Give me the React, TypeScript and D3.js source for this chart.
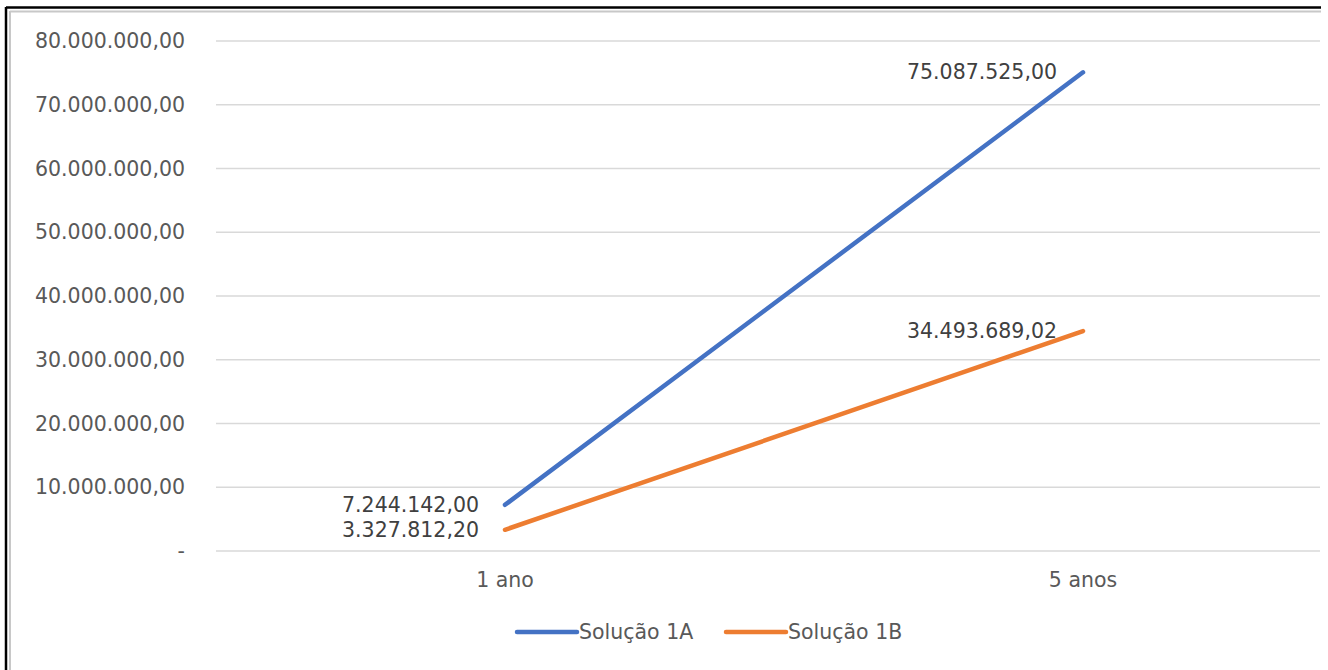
import React from "react";
import * as d3 from "d3";

const categories = ["1 ano", "5 anos"];
const seriesNames = ["Solução 1A", "Solução 1B"];
const solucao1A = [7244142.0, 75087525.0];
const solucao1B = [3327812.2, 34493689.02];
const yTicks = [0, 10000000, 20000000, 30000000, 40000000, 50000000, 60000000, 70000000, 80000000];
const colors = ["#4472C4", "#ED7D31"];

const W = 1328;
const H = 670;
const FONT = "'DejaVu Sans', 'Noto Sans', sans-serif";

const locale = d3.formatLocale({ decimal: ",", thousands: ".", grouping: [3], currency: ["R$", ""] });
const fmt = locale.format(",.2f");
const tickFmt = (v: number) => (v === 0 ? "-" : fmt(v));

export default function App() {
  const y = d3.scaleLinear().domain([0, 80000000]).range([551, 41]);
  const x = d3.scalePoint<string>().domain(categories).range([216, 1372]).padding(0.5);
  const line = d3
    .line<number>()
    .x((_, i) => x(categories[i]) as number)
    .y((d) => y(d));
  const series = [solucao1A, solucao1B];

  return (
    <div style={{ position: "absolute", left: 0, top: 0 }}>
      <svg width={W} height={H} style={{ display: "block", background: "#fff" }}>
        {/* frame */}
        <line x1={6} y1={7.5} x2={1321} y2={7.5} stroke="#000" strokeWidth={2.5} />
        <line x1={6} y1={7} x2={6} y2={H} stroke="#000" strokeWidth={2.5} />
        <line x1={10} y1={11.5} x2={1321} y2={11.5} stroke="#c8c8c8" strokeWidth={2} />
        <line x1={10} y1={11} x2={10} y2={H} stroke="#c8c8c8" strokeWidth={2} />

        {/* gridlines */}
        {yTicks.map((t) => (
          <line key={t} x1={216} x2={1320} y1={y(t)} y2={y(t)} stroke="#d9d9d9" strokeWidth={1.5} />
        ))}
        {yTicks.map((t) => (
          <text
            key={"l" + t}
            x={185}
            y={y(t)}
            dy="0.35em"
            textAnchor="end"
            fontFamily={FONT}
            fontSize={20.5}
            fill="#595959"
          >
            {tickFmt(t)}
          </text>
        ))}

        {/* category labels */}
        {categories.map((c) => (
          <text
            key={c}
            x={x(c) as number}
            y={580}
            dy="0.35em"
            textAnchor="middle"
            fontFamily={FONT}
            fontSize={20.5}
            fill="#595959"
          >
            {c}
          </text>
        ))}

        {/* lines */}
        {series.map((s, i) => (
          <path
            key={i}
            d={line(s) as string}
            fill="none"
            stroke={colors[i]}
            strokeWidth={4.5}
            strokeLinecap="round"
          />
        ))}

        {/* data labels */}
        {series.map((s, i) =>
          s.map((v, j) => (
            <text
              key={i + "-" + j}
              x={(x(categories[j]) as number) - 26}
              y={y(v)}
              dy="0.35em"
              textAnchor="end"
              fontFamily={FONT}
              fontSize={20.5}
              fill="#404040"
            >
              {fmt(v)}
            </text>
          ))
        )}

        {/* legend */}
        {seriesNames.map((n, i) => {
          const lx = i === 0 ? 517 : 726;
          return (
            <g key={n}>
              <line x1={lx} x2={lx + 60} y1={632} y2={632} stroke={colors[i]} strokeWidth={4.5} strokeLinecap="round" />
              <text x={lx + 62} y={632} dy="0.35em" fontFamily={FONT} fontSize={20.5} fill="#595959">
                {n}
              </text>
            </g>
          );
        })}
      </svg>
    </div>
  );
}
